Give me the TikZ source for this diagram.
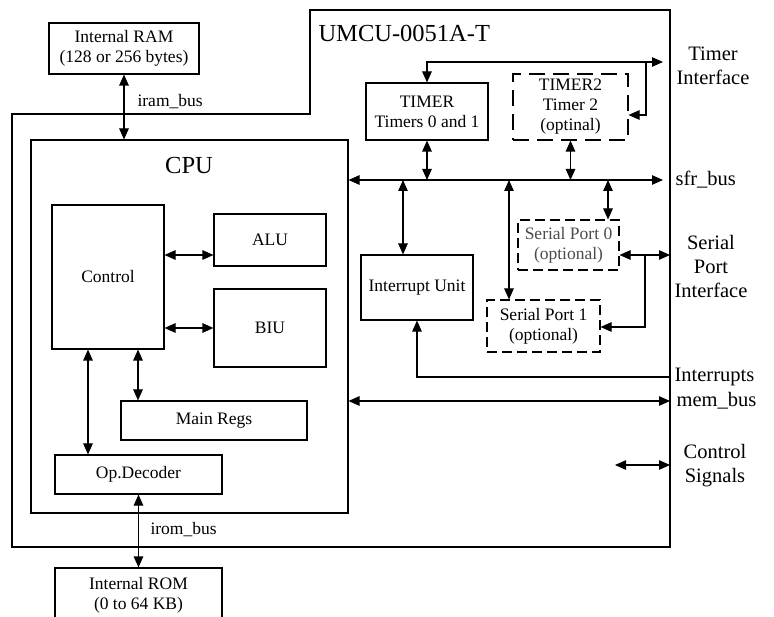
\documentclass[tikz,border=0pt]{standalone}
\usepackage{fontspec}
\setmainfont{Liberation Serif}
\usetikzlibrary{arrows.meta}
\begin{document}
\begin{tikzpicture}[x=1pt,y=-1pt,
  >={Triangle[length=11pt,width=9.5pt]},
  line width=1.1pt,
  box/.style={draw, line width=1.1pt, inner sep=0pt, align=center,
    font=\fontsize{17.5}{20}\selectfont},
  dbox/.style={box, dash pattern=on 10pt off 5pt},
  ddbox/.style={box, dash pattern=on 16pt off 8pt},
  side/.style={inner sep=0pt, align=center, font=\fontsize{20.5}{24}\selectfont},
  lbl/.style={inner sep=0pt, font=\fontsize{17.5}{20}\selectfont},
  big/.style={inner sep=0pt, font=\fontsize{24.5}{28}\selectfont}]
\clip (0,0) rectangle (774,617);
\fill[white] (0,0) rectangle (774,617);
% outer chip boundary
\draw (12,114) -- (310,114) -- (310,10) -- (670,10) -- (670,547) -- (12,547) -- cycle;
\node[big, anchor=west] (umcu) at (318,33) {UMCU-0051A-T};
% boxes
\node[box, minimum width=150, minimum height=51] (ram) at (124,48.5) {Internal RAM\\(128 or 256 bytes)};
\node[box, minimum width=317, minimum height=373] (cpu) at (189.5,326.5) {};
\node[big] (cputxt) at (189,166) {CPU};
\node[box, minimum width=112, minimum height=144] (ctrl) at (108,277) {Control};
\node[box, minimum width=112, minimum height=52] (alu) at (270,240) {ALU};
\node[box, minimum width=112, minimum height=78] (biu) at (270,328) {BIU};
\node[box, minimum width=186, minimum height=39] (regs) at (214,420.5) {Main Regs};
\node[box, minimum width=167, minimum height=39] (opdec) at (138.5,474.5) {Op.Decoder};
\node[box, minimum width=167, minimum height=54] (rom) at (138.5,595) {Internal ROM\\(0 to 64 KB)};
\node[box, minimum width=122, minimum height=57] (timer) at (427,111.5) {TIMER\\Timers 0 and 1};
\node[ddbox, minimum width=115, minimum height=66] (timer2) at (570.5,107) {TIMER2\\Timer 2\\(optinal)};
\node[box, minimum width=112, minimum height=65] (intr) at (417,287.5) {Interrupt Unit};
\node[dbox, minimum width=101, minimum height=50, text=black!70] (sp0) at (568.5,245) {Serial Port 0\\(optional)};
\node[dbox, minimum width=113, minimum height=52] (sp1) at (543.5,326) {Serial Port 1\\(optional)};
% bus labels
\node[lbl, anchor=west] (iramlbl) at (137,102) {iram\_bus};
\node[lbl, anchor=west] (iromlbl) at (150,530) {irom\_bus};
% side labels
\node[side] (tilbl) at (713,66) {Timer\\Interface};
\node[side, anchor=west] (sfrlbl) at (675,180) {sfr\_bus};
\node[side] (splbl) at (711,266.5) {Serial\\Port\\Interface};
\node[side, anchor=west] (intlbl) at (674,377) {Interrupts};
\node[side, anchor=west] (memlbl) at (676,401) {mem\_bus};
\node[side] (cslbl) at (715,465.5) {Control\\Signals};
% free ends
\coordinate (sfrend) at (663,180);
\coordinate (tiend) at (663,62);
\coordinate (tibr) at (646,62);
\coordinate (spend) at (670,255);
\coordinate (spbr) at (645,255);
\coordinate (intend) at (670,377);
\coordinate (memend) at (670,401);
\coordinate (csa) at (615,465);
\coordinate (csb) at (670,465);
% connectors
\draw[<->] (ram.south) -- (ram.south |- cpu.north);
\draw[<->] (opdec.south) -- (rom.north);
\draw[<->] (ctrl.east |- 0,255) -- (alu.west |- 0,255);
\draw[<->] (ctrl.east |- 0,328) -- (biu.west |- 0,328);
\draw[<->] (ctrl.south -| 88,0) -- (opdec.north -| 88,0);
\draw[<->] (ctrl.south -| 138,0) -- (regs.north -| 138,0);
\draw[<->] (cpu.east |- sfrend) -- (sfrend);
\draw[<->] (timer.south) -- (timer.south |- sfrend);
\draw[<->] (timer2.south) -- (timer2.south |- sfrend);
\draw[<->] (intr.north -| 403,0) -- (403,180);
\draw[<->] (sp1.north -| 509,0) -- (509,180);
\draw[<->] (sp0.north -| 608,0) -- (608,180);
\draw[<->] (timer.north) |- (tiend);
\draw[->] (tibr) |- (timer2.east |- 0,115);
\draw[<->] (sp0.east |- spend) -- (spend);
\draw[->] (spbr) |- (sp1.east |- 0,327);
\draw[->] (intend) -| (intr.south);
\draw[<->] (cpu.east |- memend) -- (memend);
\draw[<->] (csa) -- (csb);
\end{tikzpicture}
\end{document}
